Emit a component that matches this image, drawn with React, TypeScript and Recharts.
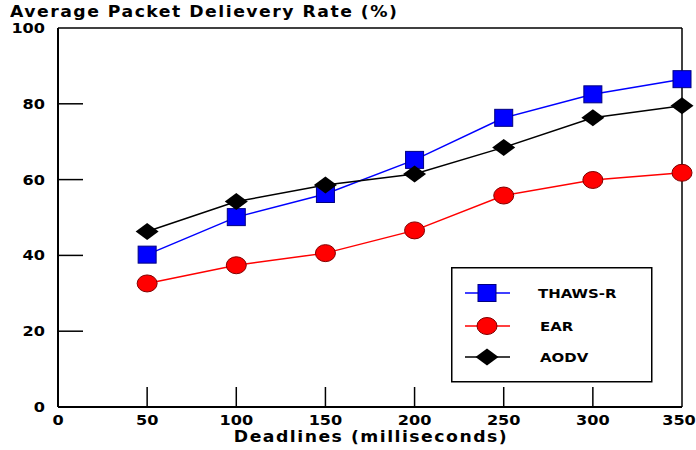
import React from "react";
import { LineChart, Line, XAxis, YAxis, Legend, ReferenceLine } from "recharts";

const deadlines = [50, 100, 150, 200, 250, 300, 350];
const thawsR = [40.2, 50.1, 56.2, 65.2, 76.3, 82.5, 86.5];
const ear = [32.6, 37.4, 40.6, 46.6, 55.8, 59.9, 61.8];
const aodv = [46.3, 54.2, 58.6, 61.5, 68.5, 76.3, 79.5];
const xTicks = [0, 50, 100, 150, 200, 250, 300, 350];
const yTicks = [0, 20, 40, 60, 80, 100];

const rows = deadlines.map((d, i) => ({ d, thawsR: thawsR[i], ear: ear[i], aodv: aodv[i] }));

const FONT = "'DejaVu Sans', Verdana, sans-serif";
const SX = 1.15;

function Marker({ kind, cx, cy }: { kind: string; cx: number; cy: number }) {
  if (kind === "thawsR")
    return <rect x={cx - 9} y={cy - 8.5} width={18} height={17} fill="#0000ff" stroke="#000080" strokeWidth={1} />;
  if (kind === "ear")
    return <ellipse cx={cx} cy={cy} rx={10} ry={8.5} fill="#ff0000" stroke="#800000" strokeWidth={1} />;
  return <polygon points={`${cx - 11.5},${cy} ${cx},${cy - 8.5} ${cx + 11.5},${cy} ${cx},${cy + 8.5}`} fill="#000" />;
}

const dotFor = (kind: string) => (p: any) => <Marker key={`${kind}-${p.index}`} kind={kind} cx={p.cx} cy={p.cy} />;

function YTick(p: any) {
  const axisX = p.x + 13;
  const v = p.payload.value;
  return (
    <g>
      {v !== 0 && v !== 100 && <line x1={axisX} x2={axisX + 25} y1={p.y} y2={p.y} stroke="#000" strokeWidth={1.5} />}
      <text transform={`translate(${p.x},${p.y + 5}) scale(${SX},1)`} textAnchor="end" fontFamily={FONT} fontWeight="bold" fontSize={14} fill="#000">
        {v}
      </text>
    </g>
  );
}

function XTick(p: any) {
  const axisY = p.y - 6;
  const v = p.payload.value;
  const tx = v === 350 ? p.x - 3 : p.x;
  return (
    <g>
      {v !== 0 && v !== 350 && <line x1={p.x} x2={p.x} y1={axisY} y2={axisY - 20} stroke="#000" strokeWidth={1.5} />}
      <text transform={`translate(${tx},${p.y + 12}) scale(${SX},1)`} textAnchor="middle" fontFamily={FONT} fontWeight="bold" fontSize={14} fill="#000">
        {v}
      </text>
    </g>
  );
}

const legendRows = [
  { key: "thawsR", name: "THAWS-R", color: "#0000ff" },
  { key: "ear", name: "EAR", color: "#ff0000" },
  { key: "aodv", name: "AODV", color: "#000000" },
];

function LegendBox() {
  const ys = [26, 59, 90];
  return (
    <svg width={202} height={116} style={{ display: "block" }}>
      <rect x={0.75} y={0.75} width={200} height={114} fill="#fff" stroke="#000" strokeWidth={1.5} />
      {legendRows.map((r, i) => (
        <g key={r.key}>
          <line x1={14} x2={59} y1={ys[i]} y2={ys[i]} stroke={r.color} strokeWidth={1.5} />
          <Marker kind={r.key} cx={36} cy={ys[i]} />
          <text transform={`translate(${i === 0 ? 87 : 89},${ys[i] + 5}) scale(${SX},1)`} fontFamily={FONT} fontWeight="bold" fontSize={13} fill="#000">
            {r.name}
          </text>
        </g>
      ))}
    </svg>
  );
}

const textStyle: React.CSSProperties = {
  position: "absolute",
  fontFamily: FONT,
  fontWeight: "bold",
  fontSize: 15,
  letterSpacing: 1.3,
  whiteSpace: "nowrap",
  lineHeight: "18px",
};

export default function App() {
  return (
    <div style={{ position: "absolute", left: 0, top: 0, width: 696, height: 450, background: "#fff" }}>
      <div style={{ ...textStyle, left: 10, top: 3, transform: `scaleX(${SX})`, transformOrigin: "left top" }}>
        Average Packet Delievery Rate (%)
      </div>
      <LineChart width={696} height={450} data={rows} margin={{ top: 28, right: 14, bottom: 0, left: 0 }}>
        <XAxis
          dataKey="d"
          type="number"
          domain={[0, 350]}
          ticks={xTicks}
          height={43}
          tickSize={0}
          tickMargin={6}
          tick={<XTick />}
          axisLine={{ stroke: "#000", strokeWidth: 2 }}
          interval={0}
        />
        <YAxis
          type="number"
          domain={[0, 100]}
          ticks={yTicks}
          width={58}
          tickSize={0}
          tickMargin={13}
          tick={<YTick />}
          axisLine={{ stroke: "#000", strokeWidth: 2 }}
          interval={0}
        />
        <ReferenceLine y={100} stroke="#000" strokeWidth={1.5} />
        <ReferenceLine x={350} stroke="#000" strokeWidth={1.5} />
        <Legend
          layout="vertical"
          align="center"
          verticalAlign="middle"
          content={() => <LegendBox />}
          wrapperStyle={{ left: 451, top: 267, width: 202, height: 116 }}
        />
        <Line dataKey="thawsR" name="THAWS-R" stroke="#0000ff" strokeWidth={1.5} dot={dotFor("thawsR")} activeDot={false} isAnimationActive={false} />
        <Line dataKey="ear" name="EAR" stroke="#ff0000" strokeWidth={1.5} dot={dotFor("ear")} activeDot={false} isAnimationActive={false} />
        <Line dataKey="aodv" name="AODV" stroke="#000000" strokeWidth={1.5} dot={dotFor("aodv")} activeDot={false} isAnimationActive={false} />
      </LineChart>
      <div style={{ ...textStyle, left: 371, top: 428, transform: `translateX(-50%) scaleX(${SX})` }}>
        Deadlines (milliseconds)
      </div>
    </div>
  );
}
